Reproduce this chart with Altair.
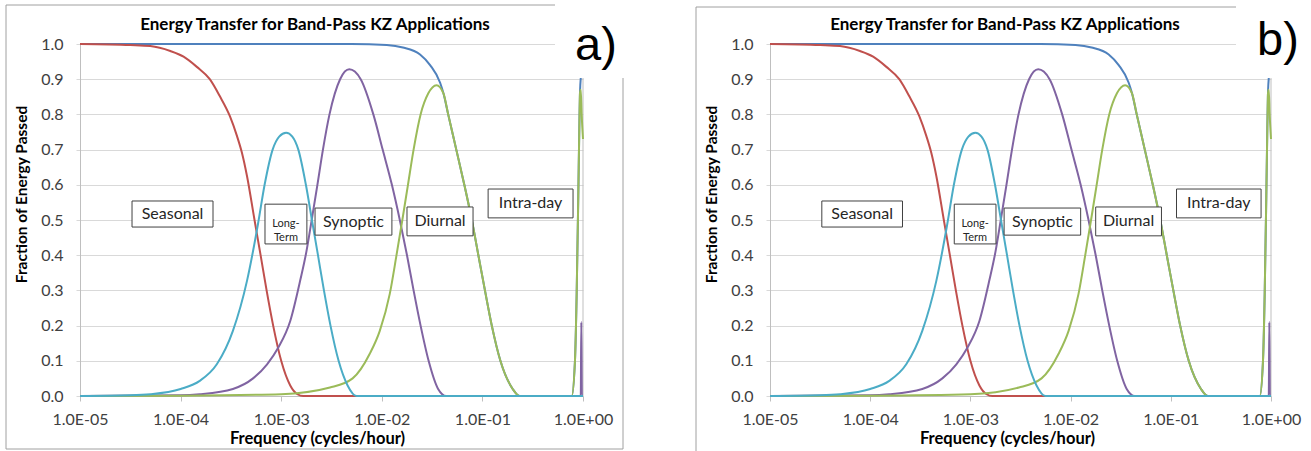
import altair as alt
import pandas as pd

# ---------------- data ----------------
SEASONAL_F = [1e-5, 3.16e-5, 5.0e-5, 7.9e-5, 1.07e-4, 1.45e-4, 1.95e-4, 2.45e-4, 3.09e-4, 3.63e-4,
              4.07e-4, 4.57e-4, 5.43e-4, 6.24e-4, 7.16e-4, 8.32e-4, 1.0e-3, 1.23e-3, 1.45e-3,
              1.66e-3, 1e-2, 1e-1, 1.0]
SEASONAL_V = [1.0, 0.997, 0.994, 0.98, 0.964, 0.935, 0.90, 0.852, 0.795, 0.739,
              0.691, 0.625, 0.50, 0.40, 0.30, 0.20, 0.10, 0.03, 0.005,
              0.0, 0.0, 0.0, 0.0]

LONGTERM_F = [1e-5, 3.16e-5, 5e-5, 1e-4, 1.55e-4, 2.29e-4, 3.31e-4, 4.57e-4, 5.89e-4, 6.84e-4,
              8.22e-4, 9.55e-4, 1.12e-3, 1.29e-3, 1.48e-3, 1.76e-3, 2.02e-3, 2.32e-3, 2.66e-3,
              3.09e-3, 3.72e-3, 4.57e-3, 5.62e-3, 1e-2, 1.0]
LONGTERM_V = [0.0, 0.002, 0.005, 0.02, 0.043, 0.09, 0.185, 0.327, 0.49, 0.6,
              0.7, 0.737, 0.748, 0.737, 0.7, 0.6, 0.5, 0.4, 0.3,
              0.2, 0.1, 0.03, 0.0, 0.0, 0.0]

SYNOPTIC_F = [1e-5, 1e-4, 1.55e-4, 3.31e-4, 5.25e-4, 7.24e-4, 9.33e-4, 1.23e-3, 1.55e-3, 1.78e-3,
              2.01e-3, 2.29e-3, 2.6e-3, 3.02e-3, 3.85e-3, 4.75e-3, 6.17e-3, 8.24e-3, 1.02e-2,
              1.26e-2, 1.51e-2, 1.78e-2, 2.07e-2, 2.43e-2, 2.92e-2, 3.63e-2, 4.37e-2, 1e-1,
              0.95, 0.962, 0.975, 1.0]
SYNOPTIC_V = [0.0, 0.002, 0.005, 0.02, 0.05, 0.09, 0.137, 0.213, 0.33, 0.41,
              0.5, 0.6, 0.7, 0.8, 0.9, 0.928, 0.9, 0.8, 0.7,
              0.6, 0.5, 0.4, 0.3, 0.2, 0.1, 0.02, 0.0, 0.0,
              0.0, 0.21, 0.0, 0.0]

DIURNAL_F = [1e-5, 1e-4, 1e-3, 3.05e-3, 5.13e-3, 7.59e-3, 9.55e-3, 1.2e-2, 1.4e-2, 1.6e-2, 1.82e-2,
             2.07e-2, 2.43e-2, 2.9e-2, 3.5e-2, 4.1e-2, 4.57e-2, 5.5e-2, 6.61e-2, 7.85e-2, 9.12e-2,
             1.06e-1, 1.24e-1, 1.51e-1, 2.0e-1, 2.34e-1, 0.5, 0.773, 0.832, 0.865, 0.898,
             0.919, 0.933, 0.95, 0.97, 1.0]
DIURNAL_V = [0.0, 0.001, 0.005, 0.024, 0.05, 0.12, 0.185, 0.29, 0.40, 0.5, 0.6,
             0.7, 0.8, 0.86, 0.883, 0.86, 0.8, 0.7, 0.6, 0.5, 0.4,
             0.3, 0.2, 0.1, 0.02, 0.0, 0.0, 0.0, 0.1, 0.29, 0.57,
             0.76, 0.86, 0.87, 0.80, 0.73]

INTRADAY_F = [1e-5, 1e-3, 5e-3, 1.12e-2, 1.62e-2, 2.4e-2, 3.02e-2, 3.8e-2, 4.1e-2, 4.57e-2, 5.5e-2,
              6.61e-2, 7.85e-2, 9.12e-2, 1.06e-1, 1.24e-1, 1.51e-1, 2.0e-1, 2.34e-1, 0.5, 0.773,
              0.832, 0.865, 0.898, 0.919, 0.933, 0.96, 1.0]
INTRADAY_V = [1.0, 1.0, 1.0, 0.997, 0.99, 0.97, 0.94, 0.89, 0.86, 0.8, 0.7,
              0.6, 0.5, 0.4, 0.3, 0.2, 0.1, 0.02, 0.0, 0.0, 0.0,
              0.1, 0.29, 0.57, 0.76, 0.86, 0.92, 1.0]

# drawing order (bottom to top) and colours
SERIES_NAMES = ["Intra-day", "Seasonal", "Synoptic", "Diurnal", "Long-Term"]
SERIES_COLORS = ["#4F81BD", "#C0504D", "#8064A2", "#9BBB59", "#4BACC6"]

# annotation boxes (frequency range, value range) and their texts
BOX_LABELS = ["Seasonal", "Long-\nTerm", "Synoptic", "Diurnal", "Intra-day"]
BOX_F1 = [3.29e-5, 6.9e-4, 2.17e-3, 1.78e-2, 0.114]
BOX_F2 = [2.10e-4, 1.80e-3, 1.26e-2, 8.07e-2, 0.796]
BOX_V1 = [0.554, 0.545, 0.534, 0.537, 0.588]
BOX_V2 = [0.480, 0.432, 0.457, 0.455, 0.506]
BOX_FONT = [16, 11, 16, 16, 16]

XTICK_VALUES = [1e-5, 1e-4, 1e-3, 1e-2, 1e-1, 1.0]
XTICK_LABELS = ["1.0E-05", "1.0E-04", "1.0E-03", "1.0E-02", "1.0E-01", "1.0E+00"]
YTICK_VALUES = [0.0, 0.1, 0.2, 0.3, 0.4, 0.5, 0.6, 0.7, 0.8, 0.9, 1.0]

TITLE = "Energy Transfer for Band-Pass KZ Applications"
XTITLE = "Frequency (cycles/hour)"
YTITLE = "Fraction of Energy Passed"

FONT = "Lato"

series_data = {
    "Intra-day": (INTRADAY_F, INTRADAY_V),
    "Seasonal": (SEASONAL_F, SEASONAL_V),
    "Synoptic": (SYNOPTIC_F, SYNOPTIC_V),
    "Diurnal": (DIURNAL_F, DIURNAL_V),
    "Long-Term": (LONGTERM_F, LONGTERM_V),
}

# label expression built from the tick lists
expr = "''"
for v, lab in reversed(list(zip(XTICK_VALUES, XTICK_LABELS))):
    expr = f"(abs(log(datum.value) - log({v})) < 0.1 ? '{lab}' : {expr})"

XSCALE = alt.Scale(type="log", domain=[1e-5, 1.0], nice=False)
YSCALE = alt.Scale(domain=[0, 1], nice=False, zero=False)

XAXIS = alt.Axis(values=XTICK_VALUES, labelExpr=expr, grid=False,
                 title=XTITLE, titleX=237, titleY=42, titleAlign="center",
                 titleBaseline="middle", titleFont=FONT, titleFontSize=16.5,
                 titleFontWeight="bold", titleColor="#000000",
                 labelFont=FONT, labelFontSize=16, labelColor="#404040",
                 labelPadding=10, tickSize=5, tickColor="#bfbfbf",
                 domainColor="#bfbfbf", labelFlush=False, labelOverlap=False)
YAXIS = alt.Axis(values=YTICK_VALUES, format=".1f", grid=True, gridColor="#d9d9d9",
                 tickCount=11,
                 title=YTITLE, titleX=-59, titleY=150, titleAngle=270,
                 titleAlign="center", titleBaseline="middle", titleFont=FONT,
                 titleFontSize=15.5, titleFontWeight="bold", titleColor="#000000",
                 labelFont=FONT, labelFontSize=16, labelColor="#404040",
                 labelPadding=13, tickSize=4, tickColor="#d9d9d9",
                 domainColor="#bfbfbf", labelFlush=False, labelOverlap=False)

one = pd.DataFrame({"k": [0]})

boxes = pd.DataFrame({"label": BOX_LABELS, "f1": BOX_F1, "f2": BOX_F2,
                      "v1": BOX_V1, "v2": BOX_V2, "fs": BOX_FONT})
boxes["fc"] = (boxes["f1"] * boxes["f2"]) ** 0.5
boxes["vc"] = (boxes["v1"] + boxes["v2"]) / 2


def X(field):
    return alt.X(field, scale=XSCALE, axis=XAXIS)


def Y(field):
    return alt.Y(field, scale=YSCALE, axis=YAXIS)


def panel(width, letter, letter_x, letter_y, patch_x1, patch_x2, first):
    layers = []
    if first:
        layers.append(alt.Chart(one).mark_rect(fill="white").encode(
            x=alt.value(-80), x2=alt.value(-76), y=alt.value(-44), y2=alt.value(407)))
        layers.append(alt.Chart(one).mark_rect(fill=None, stroke="#a0a0a0", strokeWidth=1).encode(
            x=alt.value(-74), x2=alt.value(543), y=alt.value(-39), y2=alt.value(405)))
    else:
        layers.append(alt.Chart(one).mark_rule(color="#a0a0a0", strokeWidth=1).encode(
            x=alt.value(-74), y=alt.value(-37), y2=alt.value(407)))
        layers.append(alt.Chart(one).mark_rule(color="#a0a0a0", strokeWidth=1).encode(
            x=alt.value(-74), x2=alt.value(patch_x1), y=alt.value(-37)))

    # vertical line at the right edge of the plot
    layers.append(alt.Chart(one).mark_rule(color="#bfbfbf", strokeWidth=1).encode(
        x=alt.datum(1.0, scale=XSCALE), y=alt.datum(0.0, scale=YSCALE),
        y2=alt.datum(1.0)))

    # curves
    for name, color in zip(SERIES_NAMES, SERIES_COLORS):
        fs, vs = series_data[name]
        df = pd.DataFrame({"f": fs, "v": vs})
        layers.append(alt.Chart(df).mark_line(color=color, strokeWidth=2,
                                              interpolate="monotone").encode(
            x=X("f:Q"), y=Y("v:Q")))

    # annotation boxes
    layers.append(alt.Chart(boxes).mark_rect(fill="white", stroke="#404040", strokeWidth=1).encode(
        x=X("f1:Q"), x2="f2:Q", y=Y("v1:Q"), y2="v2:Q"))
    layers.append(alt.Chart(boxes).mark_text(font=FONT, color="#262626", baseline="middle",
                                             align="center", lineBreak="\n", lineHeight=14).encode(
        x=X("fc:Q"), y=Y("vc:Q"),
        text="label:N", size=alt.Size("fs:Q", scale=None, legend=None)))

    # white patch behind the panel letter
    layers.append(alt.Chart(one).mark_rect(fill="white").encode(
        x=alt.value(patch_x1), x2=alt.value(patch_x2), y=alt.value(-44), y2=alt.value(34)))
    layers.append(alt.Chart(one).mark_text(font=FONT, fontSize=17, fontWeight="bold",
                                           color="#000000", align="center", baseline="middle").encode(
        x=alt.value(235), y=alt.value(-19), text=alt.value(TITLE)))
    layers.append(alt.Chart(one).mark_text(font="Liberation Sans", fontSize=47, color="#000000",
                                           align="left", baseline="alphabetic").encode(
        x=alt.value(letter_x), y=alt.value(letter_y), text=alt.value(letter)))
    return alt.layer(*layers).properties(width=width, height=352)


pa = panel(503, "a)", 495, 16, 475, 580, True)
pb = panel(501, "b)", 487, 11, 466, 541, False)

chart = alt.hconcat(pa, pb, spacing=187, bounds="flush").properties(
    padding={"left": 0, "top": 0, "right": 0, "bottom": 0},
    background="white",
).configure_view(stroke=None)

chart.save("out.html", embed_options={"renderer": "svg", "actions": False})
